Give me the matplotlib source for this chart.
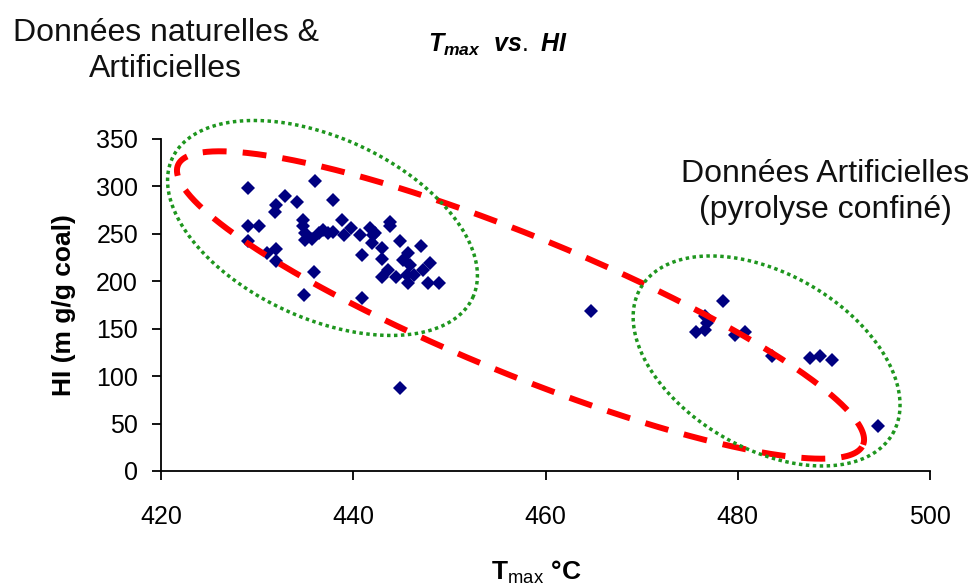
import numpy as np
import matplotlib
matplotlib.use("Agg")
import matplotlib.pyplot as plt

plt.rcParams["font.family"] = ["Liberation Sans", "DejaVu Sans"]
plt.rcParams["mathtext.fontset"] = "custom"
plt.rcParams["mathtext.rm"] = "Liberation Sans"
plt.rcParams["mathtext.it"] = "Liberation Sans:italic:bold"
plt.rcParams["mathtext.bf"] = "Liberation Sans:bold"

# Tmax (°C) and HI (mg/g coal)
TMAX = [
    429.0, 429.0, 429.0, 430.2, 432.9, 434.1, 432.0, 431.9, 436.0, 437.9,
    431.0, 432.0, 432.0, 435.9, 434.9, 434.8, 434.8, 435.0, 435.0, 435.7,
    436.4, 436.9, 437.4, 437.9, 438.8, 439.0, 439.8, 440.7, 441.7, 442.3,
    441.9, 443.0, 443.8, 440.9, 443.0, 443.6, 443.8, 442.1, 444.9, 447.0,
    445.7, 445.2, 445.9, 445.6, 448.0, 447.3, 443.0, 444.4, 445.7, 447.8,
    448.9, 446.3, 440.9, 444.9,
    464.7,
    478.5, 476.6, 475.7, 476.6, 476.8, 479.7, 480.8, 483.6, 487.5, 488.6,
    489.8, 494.6,
]
HI = [
    298, 258, 242, 258, 290, 284, 280, 273, 306, 286,
    230, 234, 221, 210, 186, 265, 258, 251, 244, 245,
    251, 254, 251, 252, 265, 249, 256, 249, 256, 251,
    240, 235, 263, 228, 224, 212, 258, 249, 242, 237,
    230, 222, 217, 207, 219, 212, 205, 205, 198, 198,
    198, 207, 182, 87,
    169,
    179, 163, 147, 149, 156, 143, 147, 121, 119, 121,
    117, 47,
]

X_TICKS = [420, 440, 460, 480, 500]
Y_TICKS = [0, 50, 100, 150, 200, 250, 300, 350]

# annotation ellipses: centre (data), semi-axes (px), tilt (deg)
RED_ELLIPSE = (457.4, 175.0, 370, 69, -22.2)
GREEN_LEFT = (436.8, 256.2, 165.6, 90.2, -24.9)
GREEN_RIGHT = (483.0, 116.0, 145.6, 87.4, -30.0)


def ellipse_xy(ax, cx, cy, a, b, ang):
    """Ellipse defined in screen pixels, returned in data coordinates."""
    bb = ax.get_window_extent()
    x0, x1 = ax.get_xlim()
    y0, y1 = ax.get_ylim()
    ppx = bb.width / (x1 - x0)
    ppy = bb.height / (y1 - y0)
    t = np.linspace(0, 2 * np.pi, 500)
    th = np.deg2rad(ang)
    dx = a * np.cos(t) * np.cos(th) - b * np.sin(t) * np.sin(th)
    dy = a * np.cos(t) * np.sin(th) + b * np.sin(t) * np.cos(th)
    return cx + dx / ppx, cy + dy / ppy


fig = plt.figure(figsize=(9.74, 5.88), dpi=100)
ax = fig.add_axes([161 / 974, 1 - 471 / 588, 769 / 974, 332 / 588])

ax.plot(TMAX, HI, "D", color="#000080", ms=7.4, mew=0, zorder=3)

ax.set_xlim(420, 500)
ax.set_ylim(0, 350)
ax.set_xticks(X_TICKS)
ax.set_yticks(Y_TICKS)
for s in ("top", "right"):
    ax.spines[s].set_visible(False)
for s in ("left", "bottom"):
    ax.spines[s].set_linewidth(1.3)
ax.tick_params(length=6.5, width=1.3, direction="out", labelsize=18)
ax.tick_params(axis="y", pad=10)
ax.tick_params(axis="x", pad=18)

ex, ey = ellipse_xy(ax, *RED_ELLIPSE)
ax.plot(ex, ey, color="#ff0000", lw=4.3, ls=(0, (4.0, 2.7)), clip_on=False, zorder=4)
for e in (GREEN_LEFT, GREEN_RIGHT):
    ex, ey = ellipse_xy(ax, *e)
    ax.plot(ex, ey, color="#1e961e", lw=2.5, ls=(0, (1, 1.0)), clip_on=False, zorder=4)

fig.text(0.170, 1 - 51 / 588, "Données naturelles &\nArtificielles", ha="center",
         va="center", fontsize=23, linespacing=1.3, color="#111111")
fig.text(0.847, 1 - 192 / 588, "Données Artificielles\n(pyrolyse confiné)", ha="center",
         va="center", fontsize=23, linespacing=1.3, color="#111111")
fig.text(0.511, 1 - 45 / 588, r"$T_{max}\ \ vs.\ HI$", ha="center", va="center",
         fontsize=18)
fig.text(0.551, 1 - 572 / 588, r"$\mathbf{T}_{\mathrm{max}}\ \mathbf{°C}$", ha="center",
         va="center", fontsize=19)
fig.text(64 / 974, 1 - 305 / 588, "HI (m g/g coal)", rotation=90, ha="center",
         va="center", fontsize=19, fontweight="bold")

fig.savefig("out.png", dpi=100)
